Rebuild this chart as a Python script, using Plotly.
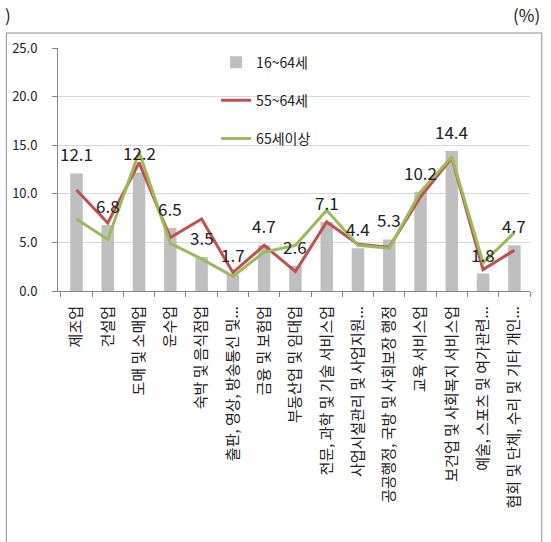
import plotly.graph_objects as go

categories = [
    "제조업", "건설업", "도매 및 소매업", "운수업", "숙박 및 음식점업",
    "출판, 영상, 방송통신 및...", "금융 및 보험업", "부동산업 및 임대업",
    "전문, 과학 및 기술 서비스업", "사업시설관리 및 사업지원...",
    "공공행정, 국방 및 사회보장 행정", "교육 서비스업",
    "보건업 및 사회복지 서비스업", "예술, 스포츠 및 여가관련...",
    "협회 및 단체, 수리 및 기타 개인...",
]
age_16_64 = [12.1, 6.8, 12.2, 6.5, 3.5, 1.7, 4.7, 2.6, 7.1, 4.4, 5.3, 10.2, 14.4, 1.8, 4.7]
age_55_64 = [10.4, 7.0, 13.2, 5.5, 7.4, 1.9, 4.7, 2.0, 7.1, 4.8, 4.5, 9.7, 13.7, 2.2, 4.2]
age_65_up = [7.4, 5.3, 14.3, 4.9, 3.3, 1.5, 4.0, 4.7, 8.3, 4.7, 4.4, 10.2, 13.8, 2.9, 6.0]
series_names = ["16~64세", "55~64세", "65세이상"]
y_ticks = [0, 5, 10, 15, 20, 25]

FONT = "Noto Sans CJK KR"

fig = go.Figure()
fig.add_trace(go.Bar(
    x=categories, y=age_16_64, name=series_names[0],
    marker=dict(color="#BFBFBF", line=dict(width=0)),
    legendgroup="a",
))
fig.add_trace(go.Scatter(
    x=categories, y=age_55_64, name=series_names[1], mode="lines",
    line=dict(color="#C0504D", width=3), legendgroup="b",
))
fig.add_trace(go.Scatter(
    x=categories, y=age_65_up, name=series_names[2], mode="lines",
    line=dict(color="#9BBB59", width=3), legendgroup="c",
))

for c, v in zip(categories, age_16_64):
    fig.add_annotation(
        x=c, y=v, xref="x", yref="y", text=f"{v:.1f}", showarrow=False,
        yanchor="bottom", yshift=5,
        font=dict(family=FONT, size=17, color="#222222"),
    )

# outer chart border
fig.add_shape(type="rect", xref="paper", yref="paper",
              x0=-0.1095, x1=1.025, y0=-1.06, y1=1.0617,
              line=dict(color="#8C8C8C", width=1), fillcolor="rgba(0,0,0,0)",
              layer="below")

fig.add_annotation(xref="paper", yref="paper", x=1.025, y=1.136,
                   xanchor="right", yanchor="middle", text="(%)",
                   showarrow=False, font=dict(family=FONT, size=17, color="#222"))
fig.add_annotation(xref="paper", yref="paper", x=-0.116, y=1.136,
                   xanchor="left", yanchor="middle", text=")",
                   showarrow=False, font=dict(family=FONT, size=17, color="#222"))

fig.update_layout(
    width=551, height=542,
    margin=dict(l=55, r=21, t=48, b=251),
    paper_bgcolor="white", plot_bgcolor="white",
    bargap=0.6,
    font=dict(family=FONT, color="#222222"),
    showlegend=True,
    legend=dict(
        x=0.335, y=1.006, xanchor="left", yanchor="top",
        bgcolor="rgba(255,255,255,0)", font=dict(family=FONT, size=14, color="#222"),
        tracegroupgap=17, itemwidth=30, traceorder="grouped",
    ),
    xaxis=dict(
        type="category", tickangle=-90, ticks="outside", ticklen=5,
        tickson="boundaries", tickcolor="#868686",
        showline=True, linecolor="#868686", linewidth=1,
        tickfont=dict(family=FONT, size=15, color="#222"),
        showgrid=False, ticklabelstandoff=8,
    ),
    yaxis=dict(
        range=[0, 25], tickvals=y_ticks, tickformat=".1f",
        ticks="outside", ticklen=5, tickcolor="#868686",
        showline=True, linecolor="#868686", linewidth=1,
        gridcolor="#D9D9D9", gridwidth=1, zeroline=False,
        tickfont=dict(family=FONT, size=13, color="#222"),
        ticklabelstandoff=12,
    ),
)

fig.write_html("out.html")
